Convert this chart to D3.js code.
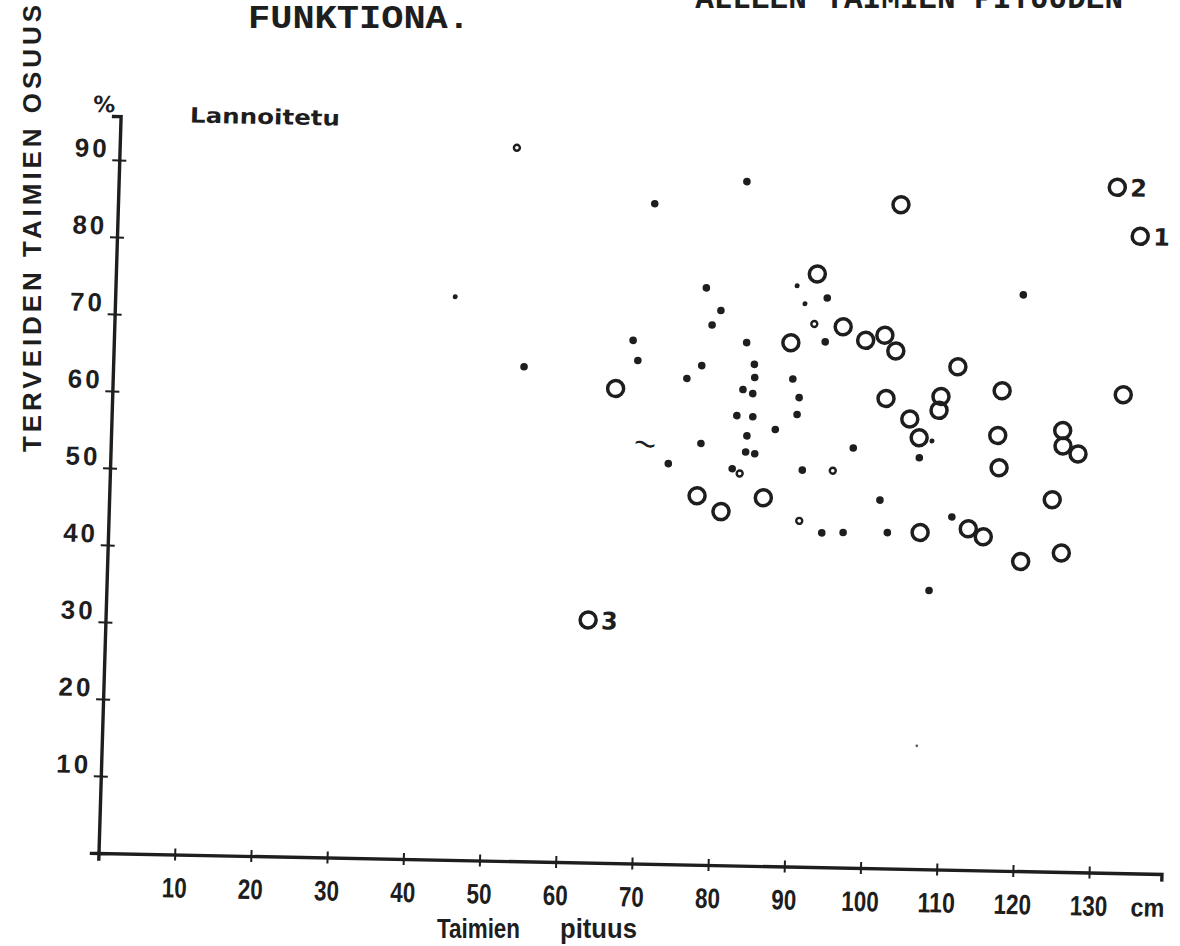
<!DOCTYPE html>
<html><head><meta charset="utf-8">
<script src="https://cdn.jsdelivr.net/npm/d3@7"></script>
<style>body{margin:0;background:#fff} svg{display:block}</style>
</head><body><svg id="chart" width="1180" height="946"></svg>
<script>
// ---- data (x = taimien pituus, cm ; y = terveiden taimien osuus, %) ----
const xTickValues = [10,20,30,40,50,60,70,80,90,100,110,120,130];
const yTickValues = [10,20,30,40,50,60,70,80,90];
const openCircles = [
  [102.7,86.2],[92.0,77.0],[95.6,70.2],[98.6,68.5],[101.1,69.2],[102.6,67.2],
  [88.8,68.0],[110.8,65.3],[66.0,61.6],[101.5,61.0],[104.7,58.4],[108.7,61.4],
  [108.5,59.6],[106.0,56.0],[116.7,62.3],[116.3,56.5],[116.6,52.3],[132.6,62.1],
  [124.8,57.3],[124.9,55.3],[126.9,54.3],[123.7,48.3],[77.1,47.9],[80.3,45.9],
  [85.8,47.8],[106.5,43.7],[112.8,44.3],[114.8,43.3],[119.8,40.2],[125.1,41.4]
];
const numberedCircles = [[131.0,89.0,"2"],[134.2,82.7,"1"],[63.3,31.5,"3"]];
const filledDots = [
  [70.4,85.7],[82.4,88.8],[53.9,64.2],[77.5,74.9],[79.5,72.0],[78.4,70.1],
  [68.1,67.9],[68.8,65.3],[77.2,64.8],[75.3,63.1],[83.0,67.9],[84.1,65.1],
  [84.2,63.4],[82.7,61.8],[84.0,61.3],[82.0,58.4],[84.1,58.3],[83.4,55.8],
  [83.3,53.7],[84.5,53.5],[81.6,51.5],[77.4,54.7],[73.2,52.0],[93.4,73.9],
  [93.3,68.2],[89.2,63.3],[90.1,60.9],[89.9,58.7],[87.1,56.7],[97.4,54.5],
  [90.8,51.5],[101.1,47.8],[93.6,43.4],[96.4,43.5],[102.2,43.6],[110.6,45.8],
  [107.9,36.2],[106.1,53.4],[119.1,74.8]
];
const smallDots = [[44.6,73.1],[89.4,75.4],[90.5,73.1],[107.7,55.6]];
const smallRings = [[52.1,92.6],[82.6,50.9],[91.8,70.5],[94.8,51.5],[90.6,44.9]];
const specks = [[106.9,16.0]];
const squiggles = [[70.1,54.6]];

// ---- drawing ----
const W = 1180, H = 946, ink = "#1e1e1e";
const sans = "'Liberation Sans',Arial,sans-serif";
const svg = d3.select("#chart");
svg.append("rect").attr("width", W).attr("height", H).attr("fill", "#fff");

const x = d3.scaleLinear().domain([0, 139.5]).range([0, 139.5 * 7.62]);
const y = d3.scaleLinear().domain([0, 95.7]).range([0, -95.7 * 7.70]);

// scanned page is slightly skewed: apply the same skew to the plot frame
const g = svg.append("g").attr("transform", "matrix(1,0.0197,-0.030,1,98.5,853)");

const gx = g.append("g").call(d3.axisBottom(x).tickValues(xTickValues).tickSizeOuter(0).tickSize(6));
gx.attr("font-family", null).attr("font-size", null);
gx.select(".domain").attr("stroke", ink).attr("stroke-width", 3.4).attr("stroke-linecap", "square");
gx.selectAll(".tick line").attr("y1", -6).attr("y2", 6).attr("stroke", ink).attr("stroke-width", 2);
gx.selectAll(".tick text").attr("y", 43).attr("dy", 0)
  .attr("font-family", sans).attr("font-weight", "bold").attr("font-size", 28)
  .attr("textLength", d => String(d).length * 12.5).attr("lengthAdjust", "spacingAndGlyphs")
  .attr("fill", ink);
gx.append("text").attr("x", x(137.8)).attr("y", 43).attr("text-anchor", "middle")
  .attr("font-family", sans).attr("font-weight", "bold").attr("font-size", 26)
  .attr("textLength", 34).attr("lengthAdjust", "spacingAndGlyphs").attr("fill", ink).text("cm");

const gy = g.append("g").call(d3.axisLeft(y).tickValues(yTickValues).tickSizeOuter(0).tickSize(7));
gy.attr("font-family", null).attr("font-size", null);
gy.select(".domain").attr("stroke", ink).attr("stroke-width", 3.4).attr("stroke-linecap", "square");
gy.selectAll(".tick line").attr("x1", -7).attr("x2", 7).attr("stroke", ink).attr("stroke-width", 2);
gy.selectAll(".tick text").attr("x", -10).attr("y", -3).attr("dy", 0)
  .attr("font-family", sans).attr("font-weight", "bold")
  .attr("font-size", 26).attr("letter-spacing", 3).attr("fill", ink);

g.append("text").attr("x", x(-2.2)).attr("y", y(97.2)).attr("dy", "0.35em").attr("text-anchor", "middle")
  .attr("font-family", "'DejaVu Sans',sans-serif").attr("font-weight", "bold").attr("font-size", 22)
  .attr("fill", ink).text("%");
g.append("text").attr("x", x(9.1)).attr("y", y(96.0)).attr("dy", "0.35em")
  .attr("font-family", "'DejaVu Sans',sans-serif").attr("font-weight", "bold").attr("font-size", 21)
  .attr("textLength", 150).attr("lengthAdjust", "spacingAndGlyphs").attr("fill", ink).text("Lannoitetu");

// marks
g.selectAll("circle.open").data(openCircles.concat(numberedCircles)).join("circle").attr("class", "open")
  .attr("cx", d => x(d[0])).attr("cy", d => y(d[1])).attr("r", 8)
  .attr("fill", "none").attr("stroke", ink).attr("stroke-width", 3.5);
g.selectAll("text.num").data(numberedCircles).join("text").attr("class", "num")
  .attr("x", d => x(d[0]) + 13).attr("y", d => y(d[1]) + 9)
  .attr("font-family", "'DejaVu Sans',sans-serif").attr("font-weight", "bold").attr("font-size", 24)
  .attr("fill", ink).text(d => d[2]);
g.selectAll("circle.dot").data(filledDots).join("circle").attr("class", "dot")
  .attr("cx", d => x(d[0])).attr("cy", d => y(d[1])).attr("r", 3.8).attr("fill", ink);
g.selectAll("circle.sdot").data(smallDots).join("circle").attr("class", "sdot")
  .attr("cx", d => x(d[0])).attr("cy", d => y(d[1])).attr("r", 2.5).attr("fill", ink);
g.selectAll("circle.sring").data(smallRings).join("circle").attr("class", "sring")
  .attr("cx", d => x(d[0])).attr("cy", d => y(d[1])).attr("r", 3)
  .attr("fill", "#fff").attr("stroke", ink).attr("stroke-width", 2.4);
g.selectAll("circle.speck").data(specks).join("circle").attr("class", "speck")
  .attr("cx", d => x(d[0])).attr("cy", d => y(d[1])).attr("r", 1.3).attr("fill", "#555");
g.selectAll("text.sq").data(squiggles).join("text").attr("class", "sq")
  .attr("x", d => x(d[0])).attr("y", d => y(d[1])).attr("dy", "0.35em").attr("text-anchor", "middle")
  .attr("font-family", "'DejaVu Sans',sans-serif").attr("font-size", 30).attr("fill", ink)
  .attr("transform", d => `rotate(15,${x(d[0])},${y(d[1])})`).text("~");

// page texts
svg.append("text").attr("x", 1123).attr("y", 8).attr("text-anchor", "end")
  .attr("font-family", "'Liberation Mono','DejaVu Sans Mono',monospace").attr("font-weight", "bold")
  .attr("font-size", 31).attr("fill", ink).text("ALLEEN TAIMIEN PITUUDEN");
svg.append("text").attr("x", 248).attr("y", 28)
  .attr("font-family", "'Liberation Mono','DejaVu Sans Mono',monospace").attr("font-weight", "bold")
  .attr("font-size", 33).attr("textLength", 222).attr("lengthAdjust", "spacingAndGlyphs")
  .attr("fill", ink).text("FUNKTIONA.");
svg.append("text").attr("transform", "translate(41,452) rotate(-90)")
  .attr("font-family", sans).attr("font-weight", "bold")
  .attr("font-size", 26).attr("textLength", 447).attr("lengthAdjust", "spacing")
  .attr("fill", ink).text("TERVEIDEN TAIMIEN OSUUS");
svg.append("text").attr("x", 437).attr("y", 938)
  .attr("font-family", sans).attr("font-weight", "bold").attr("font-size", 27)
  .attr("textLength", 83).attr("lengthAdjust", "spacingAndGlyphs").attr("fill", ink).text("Taimien");
svg.append("text").attr("x", 560).attr("y", 938)
  .attr("font-family", sans).attr("font-weight", "bold").attr("font-size", 27)
  .attr("textLength", 77).attr("lengthAdjust", "spacingAndGlyphs").attr("fill", ink).text("pituus");
</script></body></html>
